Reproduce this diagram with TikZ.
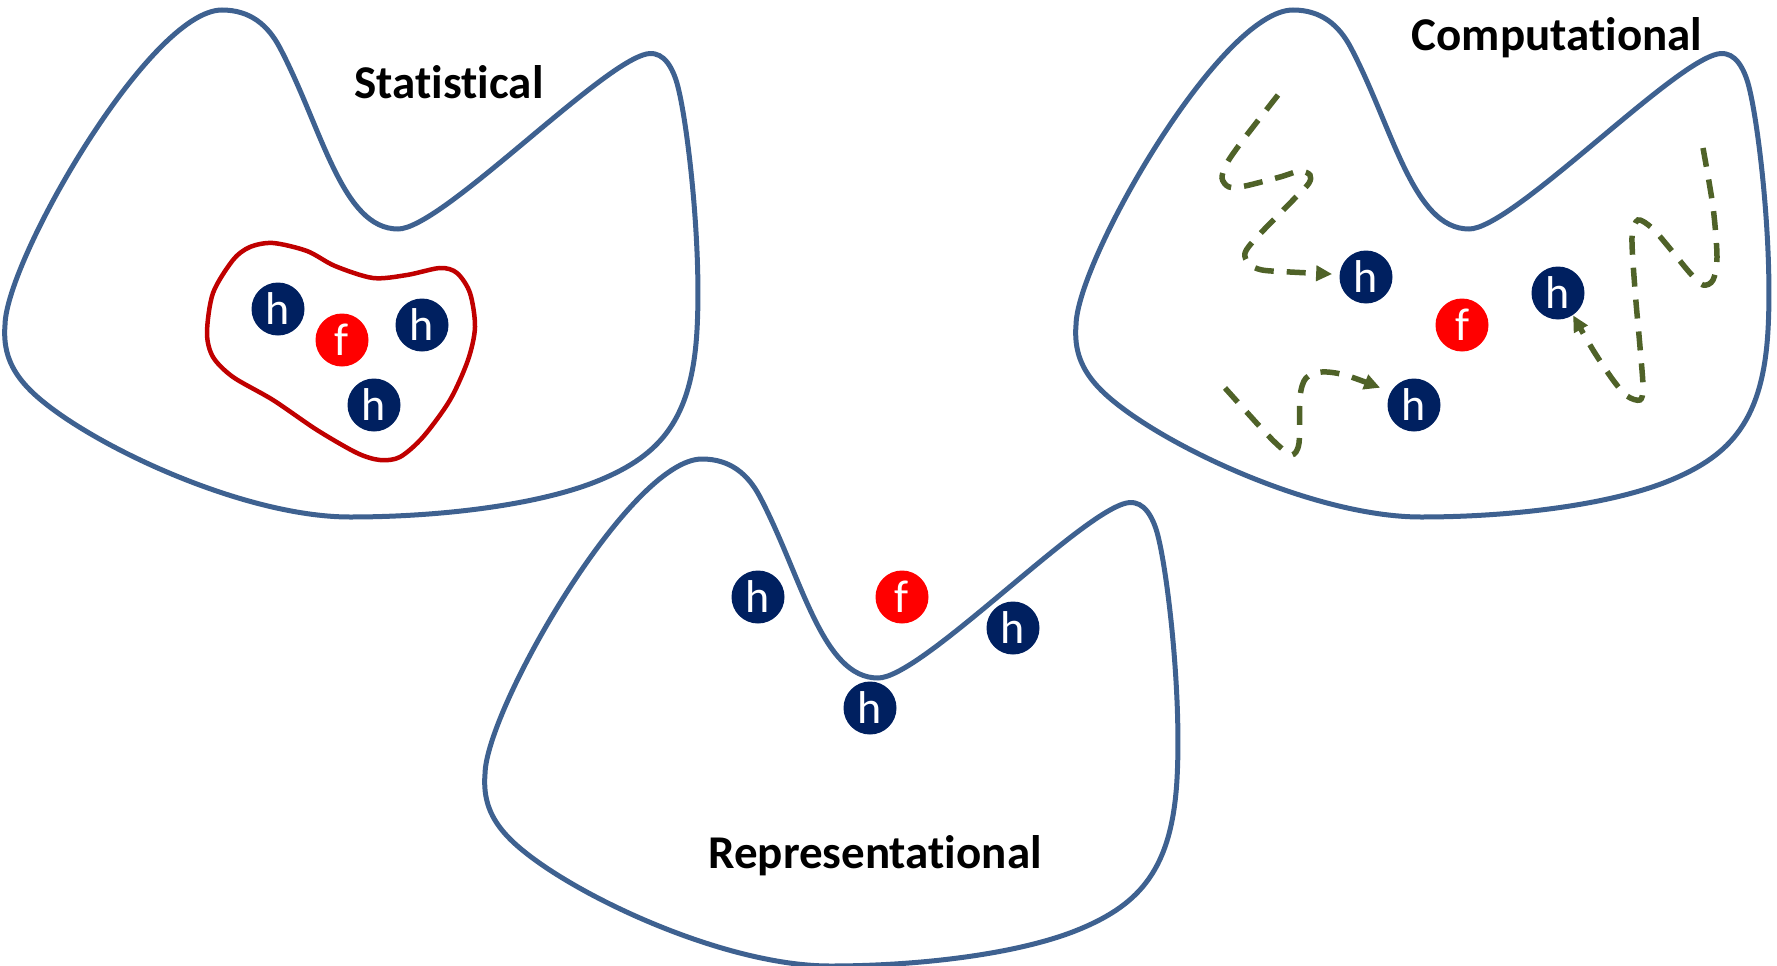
\documentclass[tikz,border=0pt]{standalone}
\usepackage{fontspec}
\setmainfont{Carlito}[Ligatures=NoCommon]
\usetikzlibrary{arrows.meta,calc}
\definecolor{outline}{RGB}{62,97,144}
\definecolor{hullred}{RGB}{192,0,0}
\definecolor{navy}{RGB}{0,32,96}
\definecolor{pathgreen}{RGB}{79,98,40}
\tikzset{
  blob/.style={draw=outline, line width=5pt},
  hull/.style={draw=hullred, line width=4.5pt},
  hyp/.style={circle, fill=navy, text=white, minimum size=53pt, inner sep=0pt,
    font=\fontsize{46}{46}\selectfont},
  target/.style={hyp, fill=red},
  title/.style={font=\fontsize{47}{56}\selectfont\bfseries, anchor=base},
  walk/.style={draw=pathgreen, line width=5.5pt, dash pattern=on 19pt off 13pt},
  walkarrow/.style={walk, -{Triangle[length=16pt,width=15pt]}},
  hypspace/.pic={
    \draw[blob] (222,10)
      .. controls (250,10) and (268,25) .. (280,48)
      .. controls (322,128) and (342,229) .. (398,229)
      .. controls (440,229) and (592,72) .. (643,55)
      .. controls (660,49) and (670,62) .. (676,80)
      .. controls (686,110) and (702,240) .. (697,330)
      .. controls (692,420) and (660,455) .. (600,480)
      .. controls (540,505) and (440,517) .. (350,517)
      .. controls (240,517) and (80,440) .. (30,390)
      .. controls (10,370) and (3,350) .. (5,325)
      .. controls (6,260) and (150,10) .. cycle;
  },
}
\begin{document}
\begin{tikzpicture}[x=1pt, y=-1pt]
\useasboundingbox (0,0) rectangle (1777,966);

% three hypothesis spaces
\pic at (0,0) {hypspace};
\pic at (480,449) {hypspace};
\pic at (1071,0) {hypspace};

% statistical: hypotheses enclosed around f
\draw[hull] plot[smooth cycle, tension=0.5] coordinates {
  (273,243) (307,251) (335,266) (373,278) (407,275) (440,268) (457,273)
  (470,293) (475,327) (468,360) (450,400) (423,437) (400,457) (380,460)
  (357,453) (317,430) (273,400) (233,377) (213,357) (207,333) (213,293)
  (233,260) (250,247)};
\node[hyp] (sa) at (278,309) {h};
\node[target] (sf) at (342,340) {f};
\node[hyp] (sb) at (422,325) {h};
\node[hyp] (sc) at (374,405) {h};
\node[title] (tstat) at (449,99) {Statistical};

% representational
\node[hyp] (ra) at (758,597) {h};
\node[target] (rf) at (902,597) {f};
\node[hyp] (rb) at (870,708) {h};
\node[hyp] (rc) at (1013,628) {h};
\node[title] (trep) at (875,868) {Representational};

% computational
\node[hyp] (ca) at (1366,277) {h};
\node[target] (cf) at (1462,325) {f};
\node[hyp] (cb) at (1414,405) {h};
\node[hyp] (cc) at (1558,293) {h};
\node[title] (tcomp) at (1557,51) {Computational};

% search trajectories
\coordinate (wa) at (1278,95);
\coordinate (wb) at (1225,388);
\coordinate (wc) at (1703,148);
\draw[walkarrow] plot[smooth, tension=0.5] coordinates {
  (wa) (1243,140) (1227,163) (1222,178) (1229,187) (1245,186) (1280,177)
  (1300,171) (1310,175) (1309,183) (1297,196) (1257,237) (1245,253)
  (1249,264) (1262,270) (1290,272) ($(ca)+(185:34)$)};
\draw[walkarrow] plot[smooth, tension=0.5] coordinates {
  (wb) (1263,430) (1280,447) (1292,455) (1299,443) (1300,397) (1306,378)
  (1322,372) (1345,375) ($(cb)+(207:38)$)};
\draw[walkarrow] plot[smooth, tension=0.5] coordinates {
  (wc) (1713,207) (1717,257) (1713,280) (1703,285) (1690,273) (1667,245)
  (1652,228) (1638,220) (1632,237) (1635,290) (1640,347) (1643,387)
  (1640,400) (1627,396) (1613,380) (1593,350) ($(cc)+(56:27)$)};
\end{tikzpicture}
\end{document}
